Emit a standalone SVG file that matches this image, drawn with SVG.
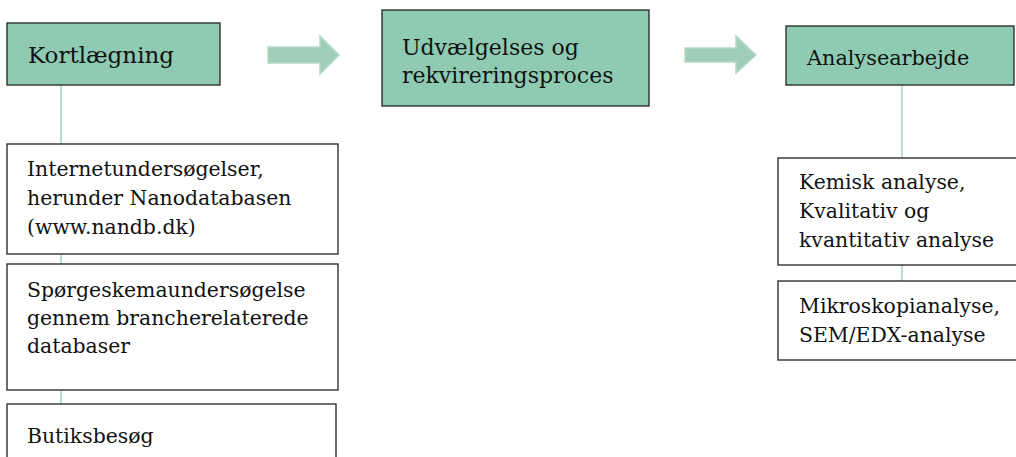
<svg xmlns="http://www.w3.org/2000/svg" width="1016" height="457" viewBox="0 0 1016 457">
<style>
.g{fill:#8fcbb3;stroke:#222;stroke-width:1.3}
.w{fill:#fff;stroke:#222;stroke-width:1.3}
.t{font-family:"DejaVu Serif","Liberation Serif",serif;fill:#111;font-size:20.4px}
.c{stroke:#a8d5c2;stroke-width:1.6;fill:none}
.a{fill:#9fcdb7;stroke:#b6dac8;stroke-width:1.5}
</style>
<rect width="1016" height="457" fill="#fff"/>
<g id="connectors">
<line class="c" x1="61" y1="85" x2="61" y2="144"/>
<line class="c" x1="61" y1="254" x2="61" y2="264"/>
<line class="c" x1="61" y1="390" x2="61" y2="404"/>
<line class="c" x1="902" y1="65" x2="902" y2="158"/>
<line class="c" x1="902" y1="265" x2="902" y2="281"/>
<polygon class="a" points="268,47 320,47 320,36 339,55 320,74 320,63 268,63"/>
<polygon class="a" points="685,48 736,48 736,36 756,55 736,73 736,62 685,62"/>
</g>
<g id="kortlaegning">
<rect class="g" x="7" y="23" width="213" height="62"/>
<text class="t" x="28" y="63" style="font-size:23px">Kortlægning</text>
</g>
<g id="udvaelgelses">
<rect class="g" x="382" y="10" width="267" height="96"/>
<text class="t" x="402" y="55" style="font-size:22px">Udvælgelses og</text>
<text class="t" x="402" y="83" style="font-size:22px">rekvireringsproces</text>
</g>
<g id="analysearbejde">
<rect class="g" x="786" y="26" width="228" height="59"/>
<text class="t" x="807" y="65" style="font-size:20.8px">Analysearbejde</text>
</g>
<g id="internet">
<rect class="w" x="7" y="144" width="331" height="110"/>
<text class="t" x="27" y="176">Internetundersøgelser,</text>
<text class="t" x="27" y="205">herunder Nanodatabasen</text>
<text class="t" x="27" y="234">(www.nandb.dk)</text>
</g>
<g id="spoergeskema">
<rect class="w" x="7" y="264" width="331" height="126"/>
<text class="t" x="27" y="297">Spørgeskemaundersøgelse</text>
<text class="t" x="27" y="325">gennem brancherelaterede</text>
<text class="t" x="27" y="353">databaser</text>
</g>
<g id="butiksbesoeg">
<rect class="w" x="7" y="404" width="329" height="60"/>
<text class="t" x="27" y="443">Butiksbesøg</text>
</g>
<g id="kemisk">
<rect class="w" x="778" y="158" width="245" height="107"/>
<text class="t" x="799" y="189">Kemisk analyse,</text>
<text class="t" x="799" y="218">Kvalitativ og</text>
<text class="t" x="799" y="247">kvantitativ analyse</text>
</g>
<g id="mikroskopi">
<rect class="w" x="778" y="281" width="245" height="79"/>
<text class="t" x="799" y="313">Mikroskopianalyse,</text>
<text class="t" x="799" y="342">SEM/EDX-analyse</text>
</g>
</svg>
